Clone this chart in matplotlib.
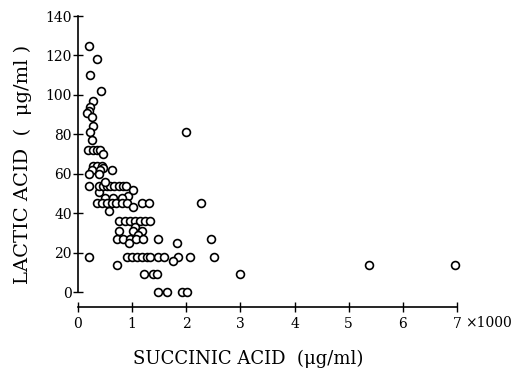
import matplotlib.pyplot as plt
import matplotlib.transforms as mtransforms

# Succinic acid (x1000 ug/ml) vs lactic acid (ug/ml)
succinic = [0.21, 0.36, 0.23, 0.43, 0.28, 0.22, 0.20, 0.17, 0.26, 0.27, 0.23, 0.26,
            0.19, 0.27, 0.35, 0.41, 0.46,
            0.27, 0.36, 0.44, 0.47,
            0.25, 0.41, 0.62,
            0.21, 0.38,
            0.21, 0.38,
            0.38, 0.46, 0.53, 0.60, 0.67, 0.75, 0.83, 0.88,
            0.49, 0.93, 1.02,
            0.49, 0.64, 0.81,
            0.35, 0.44, 0.53, 0.62, 0.71, 0.81, 0.90, 1.18, 1.32, 2.28,
            0.57, 1.02,
            0.76, 0.87, 0.96, 1.05, 1.14, 1.24, 1.33,
            1.05,
            0.75, 1.01, 1.18, 1.10,
            0.72, 0.84, 0.96, 1.08, 1.20, 1.47, 2.46,
            0.94, 1.82,
            0.21, 0.90, 1.00, 1.09, 1.18, 1.27, 1.33, 1.47, 1.59, 1.84, 2.07, 2.51,
            1.75, 0.72,
            1.22, 1.38, 1.45, 3.00,
            1.47, 1.64, 1.92, 2.01,
            5.37, 6.97,
            2.00]
lactic = [125, 118, 110, 102, 97, 94, 92, 91, 89, 84, 81, 77,
          72, 72, 72, 72, 70,
          64, 64, 64, 63,
          62, 62, 62,
          60, 60,
          54, 51,
          54, 54, 54, 54, 54, 54, 54, 54,
          56, 49, 52,
          48, 48, 48,
          45, 45, 45, 45, 45, 45, 45, 45, 45, 45,
          41, 43,
          36, 36, 36, 36, 36, 36, 36,
          33,
          31, 31, 31, 29,
          27, 27, 27, 27, 27, 27, 27,
          25, 25,
          18, 18, 18, 18, 18, 18, 18, 18, 18, 18, 18, 18,
          16, 14,
          9, 9, 9, 9,
          0, 0, 0, 0,
          14, 14,
          81]

x_ticks = [0, 1, 2, 3, 4, 5, 6, 7]
y_ticks = [0, 20, 40, 60, 80, 100, 120, 140]

plt.rcParams['font.family'] = ['DejaVu Serif']

fig = plt.figure(figsize=(5.3, 3.79), dpi=100)
ax = fig.add_axes([78 / 530, 72 / 379, (457 - 78) / 530, (307 - 16) / 379])

ax.scatter(succinic, lactic, s=32, facecolors='white', edgecolors='black',
           linewidths=1.2, clip_on=False, zorder=3)

ax.set_xlim(0, 7)
ax.set_ylim(-7.5, 140)

for side in ['top', 'right']:
    ax.spines[side].set_visible(False)
ax.spines['left'].set_bounds(0, 140)
ax.spines['bottom'].set_bounds(0, 7)
ax.spines['left'].set_linewidth(1.2)
ax.spines['bottom'].set_linewidth(1.2)

ax.set_xticks(x_ticks)
ax.set_xticklabels([str(t) for t in x_ticks])
ax.set_yticks(y_ticks)
ax.set_yticklabels([str(t) for t in y_ticks])
ax.tick_params(direction='inout', length=7, width=1, labelsize=10, colors='black')
ax.tick_params(axis='y', pad=1)
ax.tick_params(axis='x', pad=4)

# multiplier written after the last tick label
trans = mtransforms.blended_transform_factory(ax.transData, ax.transAxes)
ax.text(7.15, -0.055, '×1000', transform=trans, fontsize=10, ha='left', va='center')

ax.set_xlabel('SUCCINIC ACID  (μg/ml)', fontsize=13)
ax.xaxis.set_label_coords((248 - 78) / (457 - 78), -0.148)
ax.set_ylabel('LACTIC ACID  (  μg/ml )', fontsize=14)
ax.yaxis.set_label_coords(-0.122, 0.49)

fig.savefig('out.png', dpi=100)
